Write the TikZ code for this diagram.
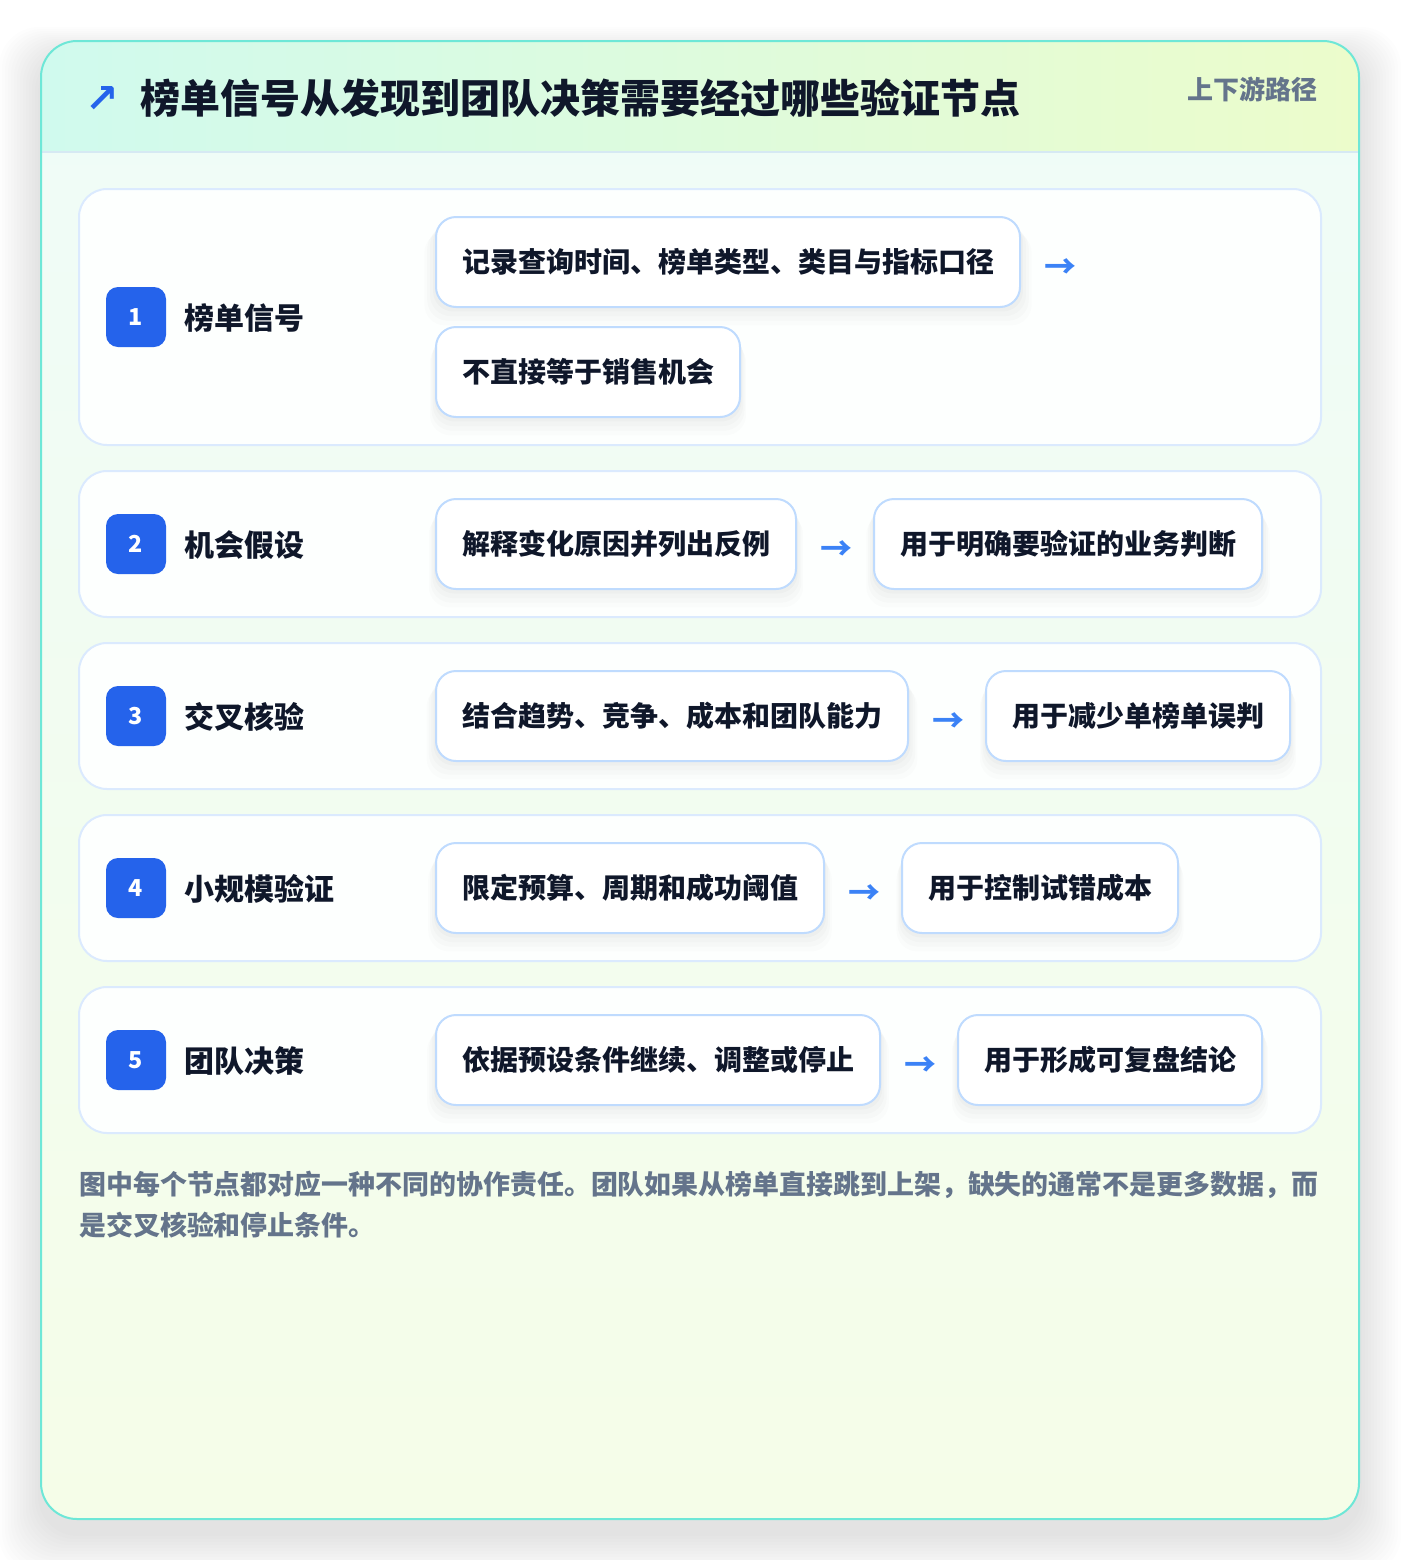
\documentclass[tikz,border=0pt]{standalone}
\usepackage{fontspec}
\setmainfont{Noto Sans CJK SC}
\newfontfamily\symfont{DejaVu Sans}
\usetikzlibrary{calc,shadows}
\definecolor{ink}{HTML}{0F172A}
\definecolor{muted}{HTML}{64748B}
\definecolor{badgeblue}{HTML}{2563EB}
\definecolor{arrowblue}{HTML}{3B82F6}
\definecolor{chipline}{HTML}{BFDBFE}
\definecolor{rowline}{HTML}{DBEAFE}
\definecolor{cardline}{HTML}{6EE7D7}
\definecolor{cardtop}{HTML}{EFFCF8}
\definecolor{cardbot}{HTML}{F5FDE8}
\definecolor{headleft}{HTML}{D0FAEE}
\definecolor{headright}{HTML}{ECFCCB}
\definecolor{headrule}{HTML}{D6E9F3}
\definecolor{rowfill}{HTML}{FDFFFE}
\tikzset{
  rowbox/.style={draw=rowline, line width=1.5pt, fill=rowfill,
    rounded corners=21pt, minimum width=931.5pt, inner sep=0pt},
  badge/.style={fill=badgeblue, rounded corners=9pt, minimum size=45pt, inner sep=0pt,
    text=white, font=\fontsize{17.5}{20}\selectfont\bfseries},
  steplabel/.style={anchor=west, inner sep=0pt, text=ink, font=\fontsize{22.5}{26}\selectfont\bfseries},
  chipbox/.style={draw=chipline, line width=1.5pt, fill=white, rounded corners=15pt,
    minimum height=67.5pt, inner xsep=19.5pt, inner ysep=0pt, text=ink,
    font=\fontsize{21}{24}\selectfont\bfseries,
    drop shadow={fill=black, opacity=0.018, shadow xshift=0pt, shadow yshift=-3pt, shadow scale=1.01},
    drop shadow={fill=black, opacity=0.016, shadow xshift=0pt, shadow yshift=-6pt, shadow scale=1.02},
    drop shadow={fill=black, opacity=0.014, shadow xshift=0pt, shadow yshift=-9pt, shadow scale=1.03},
    drop shadow={fill=black, opacity=0.010, shadow xshift=0pt, shadow yshift=-12pt, shadow scale=1.04}},
  flowarrow/.style={inner sep=0pt, text=arrowblue, font=\fontsize{24}{26}\selectfont\bfseries},
}
\begin{document}
\begin{tikzpicture}[x=0.75pt, y=-0.75pt]
\useasboundingbox (0,0) rectangle (1400,1560);
\fill[white] (0,0) rectangle (1400,1560);
% card shadow
\foreach \i in {1,...,14}{
  \fill[black, fill opacity=0.0065, rounded corners=30pt]
    (41-\i*3, 41-\i*2+14) rectangle (1359+\i*3, 1519+\i*3+14);
}
% card
\shade[top color=cardtop, bottom color=cardbot, rounded corners=27pt]
  (41,41) rectangle (1359,1519);
\begin{scope}
  \clip[rounded corners=27pt] (41,41) rectangle (1359,1519);
  \shade[left color=headleft, right color=headright] (41,41) rectangle (1359,152);
  \draw[headrule, line width=1.5pt] (41,152) -- (1359,152);
\end{scope}
\draw[cardline, line width=1.5pt, rounded corners=27pt] (41,41) rectangle (1359,1519);

% header
\node[inner sep=0pt, text=badgeblue, font=\symfont\bfseries\fontsize{30}{32}\selectfont] (icon) at (102,99) {↗};
\node[anchor=west, inner sep=0pt, text=ink, font=\fontsize{30}{36}\selectfont\bfseries] (title) at (140,98)
  {榜单信号从发现到团队决策需要经过哪些验证节点};
\node[anchor=east, inner sep=0pt, text=muted, font=\fontsize{19.5}{22}\selectfont\bfseries] (tag) at (1318,89)
  {上下游路径};

% row boxes
\node[rowbox, minimum height=192pt] (r1) at (700,317) {};
\node[rowbox, minimum height=109.5pt] (r2) at (700,544) {};
\node[rowbox, minimum height=109.5pt] (r3) at (700,716) {};
\node[rowbox, minimum height=109.5pt] (r4) at (700,888) {};
\node[rowbox, minimum height=109.5pt] (r5) at (700,1060) {};

% badges and labels
\node[badge] (b1) at (136,317) {1};
\node[steplabel] (l1) at (184,318) {榜单信号};
\node[badge] (b2) at (136,544) {2};
\node[steplabel] (l2) at (184,545) {机会假设};
\node[badge] (b3) at (136,716) {3};
\node[steplabel] (l3) at (184,717) {交叉核验};
\node[badge] (b4) at (136,888) {4};
\node[steplabel] (l4) at (184,889) {小规模验证};
\node[badge] (b5) at (136,1060) {5};
\node[steplabel] (l5) at (184,1061) {团队决策};

% row 1
\node[chipbox, anchor=west] (c1a) at (435,262) {记录查询时间、榜单类型、类目与指标口径};
\node[flowarrow] (a1) at ($(c1a.east)+(39,7)$) {→};
\node[chipbox, anchor=west] (c1b) at (435,372) {不直接等于销售机会};
% row 2
\node[chipbox, anchor=west] (c2a) at (435,544) {解释变化原因并列出反例};
\node[flowarrow] (a2) at ($(c2a.east)+(39,7)$) {→};
\node[chipbox, anchor=west] (c2b) at ($(c2a.east)+(76,0)$) {用于明确要验证的业务判断};
% row 3
\node[chipbox, anchor=west] (c3a) at (435,716) {结合趋势、竞争、成本和团队能力};
\node[flowarrow] (a3) at ($(c3a.east)+(39,7)$) {→};
\node[chipbox, anchor=west] (c3b) at ($(c3a.east)+(76,0)$) {用于减少单榜单误判};
% row 4
\node[chipbox, anchor=west] (c4a) at (435,888) {限定预算、周期和成功阈值};
\node[flowarrow] (a4) at ($(c4a.east)+(39,7)$) {→};
\node[chipbox, anchor=west] (c4b) at ($(c4a.east)+(76,0)$) {用于控制试错成本};
% row 5
\node[chipbox, anchor=west] (c5a) at (435,1060) {依据预设条件继续、调整或停止};
\node[flowarrow] (a5) at ($(c5a.east)+(39,7)$) {→};
\node[chipbox, anchor=west] (c5b) at ($(c5a.east)+(76,0)$) {用于形成可复盘结论};

% footer note
\node[anchor=north west, inner sep=0pt, align=left, text=muted,
  font=\fontsize{20.2}{30.75}\selectfont\bfseries] (note) at (79,1171)
  {图中每个节点都对应一种不同的协作责任。团队如果从榜单直接跳到上架，缺失的通常不是更多数据，而\\是交叉核验和停止条件。};
\end{tikzpicture}
\end{document}
